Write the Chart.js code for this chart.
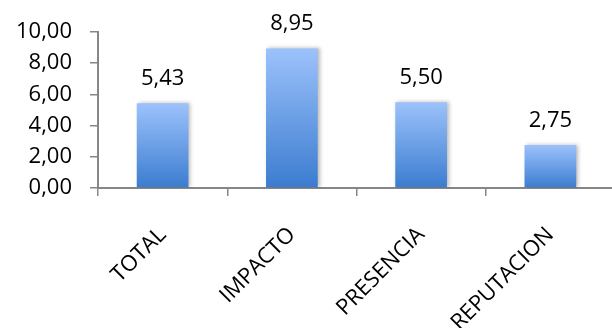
<!DOCTYPE html>
<html>
<head>
<meta charset="utf-8">
<script src="https://cdn.jsdelivr.net/npm/chart.js@4/dist/chart.umd.min.js"></script>
<style>
  html, body { margin: 0; padding: 0; background: #fff; overflow: hidden; }
  #wrap { width: 616px; height: 328px; }
</style>
</head>
<body>
<div id="wrap"><canvas id="grafico" width="616" height="328"></canvas></div>
<script>
const categorias = ['TOTAL', 'IMPACTO', 'PRESENCIA', 'REPUTACION'];
const valores = [5.43, 8.95, 5.50, 2.75];
const ejeMin = 0;
const ejeMax = 10;
const ejePaso = 2;

const fuente = '"Open Sans", "DejaVu Sans", sans-serif';
const tamLetra = 22;
const gris = '#868686';

function coma(v) {
    return v.toFixed(2).replace('.', ',');
}

// degradado vertical por barra, claro arriba y oscuro abajo
function degradado(ctx) {
    const chart = ctx.chart;
    const y = chart.scales.y;
    if (!chart.chartArea || !y || ctx.dataIndex === undefined) return '#6a9ee8';
    const arriba = y.getPixelForValue(valores[ctx.dataIndex]);
    const abajo = y.getPixelForValue(0);
    const g = chart.ctx.createLinearGradient(0, arriba, 0, abajo);
    g.addColorStop(0, '#9cc2fb');
    g.addColorStop(1, '#3b7cd0');
    return g;
}

// sombra suave a la derecha de las barras
const sombra = {
    id: 'sombra',
    beforeDatasetDraw(chart) {
        const c = chart.ctx;
        c.save();
        c.shadowColor = 'rgba(0,0,0,0.28)';
        c.shadowBlur = 4;
        c.shadowOffsetX = 2;
        c.shadowOffsetY = 0;
    },
    afterDatasetDraw(chart) {
        chart.ctx.restore();
    }
};

// etiquetas con el valor encima de cada barra
const etiquetas = {
    id: 'etiquetas',
    afterDatasetsDraw(chart) {
        const c = chart.ctx;
        const meta = chart.getDatasetMeta(0);
        c.save();
        c.font = tamLetra + 'px ' + fuente;
        c.fillStyle = '#000';
        c.textAlign = 'center';
        c.textBaseline = 'alphabetic';
        meta.data.forEach((bar, i) => {
            c.fillText(coma(valores[i]), bar.x, bar.y - 18);
        });
        c.restore();
    }
};

new Chart(document.getElementById('grafico'), {
    type: 'bar',
    data: {
        labels: categorias,
        datasets: [{
            data: valores,
            backgroundColor: degradado,
            borderWidth: 0,
            barPercentage: 0.4,
            categoryPercentage: 1
        }]
    },
    options: {
        responsive: false,
        animation: false,
        layout: { padding: { top: 32, right: 1, left: 13, bottom: 0 } },
        plugins: {
            legend: { display: false },
            tooltip: { enabled: false }
        },
        scales: {
            x: {
                grid: {
                    display: true,
                    drawOnChartArea: false,
                    drawTicks: true,
                    tickLength: 8,
                    color: gris,
                    lineWidth: 1.5,
                    offset: true
                },
                border: { color: gris, width: 2 },
                ticks: {
                    color: '#000',
                    font: { family: fuente, size: tamLetra },
                    maxRotation: 45,
                    minRotation: 45,
                    padding: 26,
                    autoSkip: false
                },
                afterFit(scale) { scale.height = 140; }
            },
            y: {
                min: ejeMin,
                max: ejeMax,
                grid: {
                    display: true,
                    drawOnChartArea: false,
                    drawTicks: true,
                    tickLength: 8,
                    color: gris,
                    lineWidth: 1.5
                },
                border: { color: gris, width: 2 },
                ticks: {
                    stepSize: ejePaso,
                    color: '#000',
                    padding: 18,
                    font: { family: fuente, size: tamLetra },
                    callback: (v) => coma(v)
                },
                afterFit(scale) { scale.width = 85; }
            }
        }
    },
    plugins: [sombra, etiquetas]
});
</script>
</body>
</html>
